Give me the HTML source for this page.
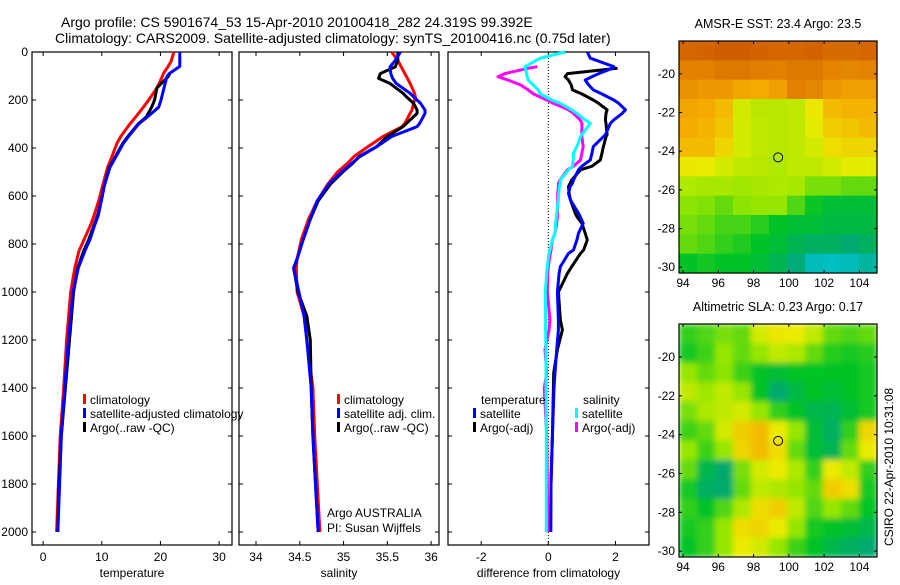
<!DOCTYPE html>
<html><head><meta charset="utf-8"><style>
html,body{margin:0;padding:0;background:#fff;}
svg text{font-family:"Liberation Sans",sans-serif;fill:#000;}
</style></head><body>
<svg id="fig" width="900" height="580" viewBox="0 0 900 580" xmlns="http://www.w3.org/2000/svg">
<defs><filter id="blur" x="-5%" y="-5%" width="110%" height="110%"><feGaussianBlur stdDeviation="3"/></filter>
<clipPath id="clipSLA"><rect x="679" y="324" width="198" height="233"/></clipPath></defs>
<text x="61" y="27" font-size="14">Argo profile: CS 5901674_53 15-Apr-2010 20100418_282 24.319S 99.392E</text>
<text x="55" y="43" font-size="14">Climatology: CARS2009. Satellite-adjusted climatology: synTS_20100416.nc (0.75d later)</text>
<g id="g"></g>
</svg>
<script>
// ---- data ----
const tDepth=[0,40,60,90,103,150,200,230,270,300,350,380,450,480,560,610,680,720,780,830,900,1000,1200,1400,1600,1800,2000];
const tClim=[22.3,21.8,21.3,20.5,20.3,19.4,18.0,17.1,15.8,14.8,13.3,12.6,11.5,11.0,10.1,9.6,8.7,8.1,7.0,6.1,5.4,4.7,4.0,3.5,2.9,2.6,2.3];
const tSat=[23.3,23.3,23.3,21.5,21.1,20.6,20.1,19.7,17.8,16.3,14.6,13.7,12.1,11.4,10.4,10.0,9.4,8.8,8.0,7.1,6.0,5.1,4.3,3.7,3.1,2.8,2.5];
const tArgo=[null,null,null,21.6,21.3,19.4,19.0,18.5,17.6,16.2,14.5,13.6,12.0,11.3,10.4,10.0,9.3,8.7,7.8,6.9,5.9,5.2,4.5,3.8,3.1,2.7,2.5];
const sDepth=[0,35,62,90,110,131,172,187,214,242,256,297,311,352,394,435,462,500,551,620,697,780,862,900,1000,1100,1200,1400,1600,1800,2000];
const sClim=[35.55,35.62,35.66,35.70,35.73,35.76,35.81,35.82,35.80,35.78,35.76,35.70,35.67,35.45,35.28,35.12,35.05,34.93,34.82,34.70,34.60,34.52,34.47,34.46,34.47,34.55,34.58,34.65,34.67,34.70,34.73];
const sSat=[35.65,35.59,35.53,35.54,35.56,35.60,35.76,35.80,35.88,35.93,35.93,35.87,35.84,35.55,35.38,35.19,35.10,34.98,34.83,34.70,34.62,34.54,34.47,34.43,34.49,34.55,34.58,34.63,34.65,34.68,34.71];
const sArgo=[35.62,35.62,35.59,35.42,35.40,35.53,35.68,35.72,35.80,35.84,35.84,35.72,35.68,35.50,35.38,35.18,35.11,34.99,34.85,34.71,34.62,34.54,34.47,34.43,34.48,34.58,34.62,34.63,34.65,34.68,34.71];
const dDepth=[0,26,61,68,90,103,117,137,158,175,200,214,241,256,283,297,345,353,394,421,450,476,491,533,547,561,589,617,672,686,714,755,783,825,839,894,922,1000,1117,1158,1240,1337,1400,1600,1800,2000];
const dTSat=[1.16,1.25,1.95,1.9,1.5,1.3,1.1,1.2,1.34,1.6,1.95,2.1,2.3,2.2,1.95,1.85,1.7,1.64,1.34,1.3,1.25,1.0,0.9,0.75,0.72,0.65,0.6,0.66,0.9,0.95,1.04,0.9,0.85,0.75,0.6,0.36,0.32,0.27,0.3,0.3,0.25,0.2,0.17,0.12,0.08,0.07];
const dTArgo=[null,null,null,2.06,0.57,0.5,0.6,0.68,0.72,1.0,1.34,1.5,1.75,1.72,1.7,1.72,1.75,1.72,1.64,1.6,1.55,1.3,0.96,0.7,0.65,0.6,0.62,0.66,0.8,0.85,1.0,1.1,1.16,1.05,0.96,0.7,0.57,0.3,0.36,0.42,0.27,0.16,0.15,0.12,0.08,0.07];
const dSSat=[0.5,-0.24,-0.69,-0.68,-0.65,-0.63,-0.6,-0.45,-0.3,-0.24,0.1,0.36,0.7,0.85,1.1,1.25,1.0,0.96,0.85,0.75,0.74,0.72,0.6,0.36,0.35,0.33,0.31,0.3,0.25,0.24,0.22,0.2,0.12,0.05,0.02,-0.03,-0.05,-0.09,-0.08,-0.08,-0.07,-0.07,-0.07,-0.06,-0.06,-0.06];
const dSArgo=[null,null,-0.33,-0.6,-1.3,-1.5,-1.2,-0.83,-0.6,-0.44,-0.05,0.16,0.6,0.75,0.95,1.0,1.0,1.0,1.04,1.0,0.96,0.75,0.57,0.35,0.3,0.3,0.28,0.28,0.27,0.27,0.25,0.2,0.12,0.08,0.06,0.0,-0.02,-0.03,0.05,0.02,-0.1,-0.05,-0.12,-0.05,-0.03,-0.02];
const sstGrid=[
[.90,.91,.92,.92,.91,.90,.90,.91,.89,.89,.90],
[.84,.84,.86,.86,.85,.84,.86,.86,.83,.82,.83],
[.78,.76,.76,.72,.70,.74,.84,.82,.76,.74,.74],
[.72,.70,.66,.52,.49,.49,.50,.56,.66,.68,.68],
[.70,.68,.64,.52,.50,.49,.50,.54,.62,.64,.66],
[.66,.66,.60,.52,.50,.49,.50,.52,.58,.60,.60],
[.56,.55,.52,.50,.49,.48,.50,.50,.52,.54,.54],
[.48,.47,.47,.46,.47,.48,.47,.42,.42,.40,.40],
[.44,.43,.40,.44,.45,.45,.38,.31,.28,.28,.28],
[.42,.40,.37,.37,.34,.30,.28,.28,.26,.26,.26],
[.40,.38,.35,.33,.30,.28,.24,.22,.22,.20,.22],
[.30,.32,.30,.30,.28,.24,.18,.08,.06,.08,.12]];
const slaGrid=[
[.35,.38,.42,.40,.52,.56,.55,.50,.40,.38,.40],
[.32,.36,.45,.40,.45,.50,.48,.40,.34,.32,.34],
[.45,.40,.44,.36,.30,.28,.30,.30,.30,.30,.32],
[.50,.46,.50,.45,.30,.20,.26,.30,.28,.30,.32],
[.42,.48,.50,.52,.45,.35,.30,.25,.24,.28,.32],
[.36,.40,.52,.62,.66,.55,.45,.28,.22,.35,.60],
[.45,.36,.45,.60,.66,.58,.40,.28,.24,.40,.55],
[.40,.25,.20,.42,.52,.55,.48,.35,.55,.50,.35],
[.32,.22,.20,.40,.50,.48,.45,.40,.62,.58,.32],
[.35,.30,.38,.48,.58,.62,.50,.38,.45,.40,.30],
[.32,.35,.45,.58,.60,.55,.45,.32,.30,.28,.25],
[.30,.35,.45,.55,.52,.45,.36,.30,.25,.22,.20]];
const yTicks=[0,200,400,600,800,1000,1200,1400,1600,1800,2000];
const tTicks=[0,10,20,30], sTicks=[34,34.5,35,35.5,36], dTicks=[-2,0,2];
const lonTicks=[94,96,98,100,102,104], latTicks=[-20,-22,-24,-26,-28,-30];
// ---- drawing ----
const NS='http://www.w3.org/2000/svg', G=document.getElementById('g');
function mk(tag,attrs,parent){const e=document.createElementNS(NS,tag);for(const k in attrs)e.setAttribute(k,attrs[k]);(parent||G).appendChild(e);return e;}
function lin(d0,d1,r0,r1){return v=>r0+(v-d0)*(r1-r0)/(d1-d0);}
const yD=lin(0,2000,52,532);
function panel(name,x0,x1,dom0,dom1,ticks,label,showY){
  const sx=lin(dom0,dom1,x0,x1);
  const r=mk('rect',{x:x0,y:52,width:x1-x0,height:493,fill:'none',stroke:'#000','stroke-width':1.2});
  
  
  ticks.forEach(t=>{const x=sx(t);
    mk('line',{x1:x,x2:x,y1:545,y2:541,stroke:'#000'});mk('line',{x1:x,x2:x,y1:52,y2:56,stroke:'#000'});
    const tx=mk('text',{x:x,y:561,'font-size':12,'text-anchor':'middle'});tx.textContent=t;
    
    });
  yTicks.forEach(t=>{const y=yD(t);
    mk('line',{x1:x0,x2:x0+4,y1:y,y2:y,stroke:'#000'});mk('line',{x1:x1,x2:x1-4,y1:y,y2:y,stroke:'#000'});
    if(showY){const tx=mk('text',{x:28,y:y+4,'font-size':12,'text-anchor':'end'});tx.textContent=t;
      
      }});
  const lb=mk('text',{x:(x0+x1)/2,y:577,'font-size':12,'text-anchor':'middle'});lb.textContent=label;
  
  
  return sx;
}
function series(sx,depths,vals,color,name){
  let d='',pen=false;
  depths.forEach((z,i)=>{const v=vals[i];if(v===null){pen=false;return;}
    d+=(pen?'L':'M')+sx(v).toFixed(1)+' '+yD(z).toFixed(1);pen=true;});
  const p=mk('path',{d:d,fill:'none',stroke:color,'stroke-width':3,'stroke-linejoin':'round'});
  
  
}
function legend(x,y,color,text,name){
  const m=mk('rect',{x:x,y:y-10,width:3,height:10,fill:color});
  
  
  const t=mk('text',{x:x+7,y:y,'font-size':12});t.textContent=text;
  
  
}
function txt(x,y,s,name,extra){const t=mk('text',Object.assign({x:x,y:y,'font-size':12},extra||{}));t.textContent=s;
  
  return t;}
// Temperature
const sxT=panel('temperature',32,232,-1.9,32.2,tTicks,'temperature',true);
series(sxT,tDepth,tClim,'#ff0000','temperature-climatology-line');
series(sxT,tDepth,tArgo,'#000000','temperature-argo-line');
series(sxT,tDepth,tSat,'#0000ff','temperature-satellite-line');
legend(83,404,'#ff0000','climatology','temp-legend-climatology');
legend(83,418,'#0000ff','satellite-adjusted climatology','temp-legend-satellite');
legend(83,432,'#000000','Argo(..raw -QC)','temp-legend-argo');
// Salinity
const sxS=panel('salinity',239,439,33.806,36.09,sTicks,'salinity',false);
series(sxS,sDepth,sClim,'#ff0000','salinity-climatology-line');
series(sxS,sDepth,sArgo,'#000000','salinity-argo-line');
series(sxS,sDepth,sSat,'#0000ff','salinity-satellite-line');
legend(337,404,'#ff0000','climatology','sal-legend-climatology');
legend(337,418,'#0000ff','satellite adj. clim.','sal-legend-satellite');
legend(337,432,'#000000','Argo(..raw -QC)','sal-legend-argo');
txt(327,517,'Argo AUSTRALIA','argo-australia-label');
txt(327,532,'PI: Susan Wijffels','pi-label');
// Difference
const sxD=panel('difference',448,649,-2.99,3.0,dTicks,'difference from climatology',false);
mk('line',{x1:sxD(0),x2:sxD(0),y1:52,y2:545,stroke:'#000','stroke-dasharray':'1 2'});
series(sxD,dDepth,dSArgo,'#ff00ff','diff-salinity-argo-line');
series(sxD,dDepth,dSSat,'#00ffff','diff-salinity-satellite-line');
series(sxD,dDepth,dTArgo,'#000000','diff-temperature-argo-line');
series(sxD,dDepth,dTSat,'#0000ff','diff-temperature-satellite-line');
txt(481,404,'temperature','diff-legend-temperature-header');
legend(473,418,'#0000ff','satellite','diff-legend-temp-satellite');
legend(473,432,'#000000','Argo(-adj)','diff-legend-temp-argo');
txt(583,404,'salinity','diff-legend-salinity-header');
legend(575,418,'#00ffff','satellite','diff-legend-sal-satellite');
legend(575,432,'#ff00ff','Argo(-adj)','diff-legend-sal-argo');
// Maps
function cmap(v){const st=[[0,[0,200,230]],[0.2,[0,170,110]],[0.3,[0,195,40]],[0.45,[150,230,0]],[0.55,[235,235,0]],[0.7,[245,170,0]],[0.85,[225,125,0]],[1,[185,60,0]]];
  for(let i=1;i<st.length;i++){if(v<=st[i][0]){const a=st[i-1],b=st[i],f=(v-a[0])/(b[0]-a[0]);
    return 'rgb('+a[1].map((c,j)=>Math.round(c+(b[1][j]-c)*f)).join(',')+')';}}return 'rgb(185,60,0)';}
function map(name,top,bottom,grid,smooth,title){
  const sx=lin(93.77,105.0,679,877);
  const latTop=-18.3, latBot=-30.3;
  const gg=mk('g',smooth?{filter:'url(#blur)','clip-path':'url(#clipSLA)'}:{});
  
  
  const rows=grid.length, cols=grid[0].length;
  const syc=lin(latTop,latBot,top,bottom);
  grid.forEach((row,i)=>row.forEach((v,j)=>{
    const lo0=93.77+j*(105-93.77)/cols, lo1=93.77+(j+1)*(105-93.77)/cols;
    const la0=latTop+i*(latBot-latTop)/rows, la1=latTop+(i+1)*(latBot-latTop)/rows;
    const c=mk('rect',{x:sx(lo0),y:syc(la0),width:sx(lo1)-sx(lo0)+0.6,height:syc(la1)-syc(la0)+0.6,fill:cmap(v)},gg);
    
    }));
  const b=mk('rect',{x:679,y:top,width:198,height:bottom-top,fill:'none',stroke:'#000','stroke-width':1.2});
  
  
  lonTicks.forEach(t=>{const x=sx(t);mk('line',{x1:x,x2:x,y1:bottom,y2:bottom-3,stroke:'#000'});mk('line',{x1:x,x2:x,y1:top,y2:top+3,stroke:'#000'});
    txt(x,bottom+14,t,name+'-lon-tick-label',{'text-anchor':'middle'});});
  latTicks.forEach(t=>{const y=syc(t);mk('line',{x1:679,x2:682,y1:y,y2:y,stroke:'#000'});mk('line',{x1:877,x2:874,y1:y,y2:y,stroke:'#000'});
    txt(675,y+4,t,name+'-lat-tick-label',{'text-anchor':'end'});});
  const c=mk('circle',{cx:sx(99.392),cy:syc(-24.319),r:4.5,fill:'none',stroke:'#000','stroke-width':1});
  
  
  txt(778,top-13,title,name+'-title',{'text-anchor':'middle','font-size':12.5});
}
map('sst',41,273,sstGrid,false,'AMSR-E SST: 23.4 Argo: 23.5');
map('sla',324,557,slaGrid,true,'Altimetric SLA: 0.23 Argo: 0.17');
txt(893,467,'CSIRO 22-Apr-2010 10:31:08','timestamp-label',{'text-anchor':'middle',transform:'rotate(-90 893 467)'});
</script>
</body></html>
